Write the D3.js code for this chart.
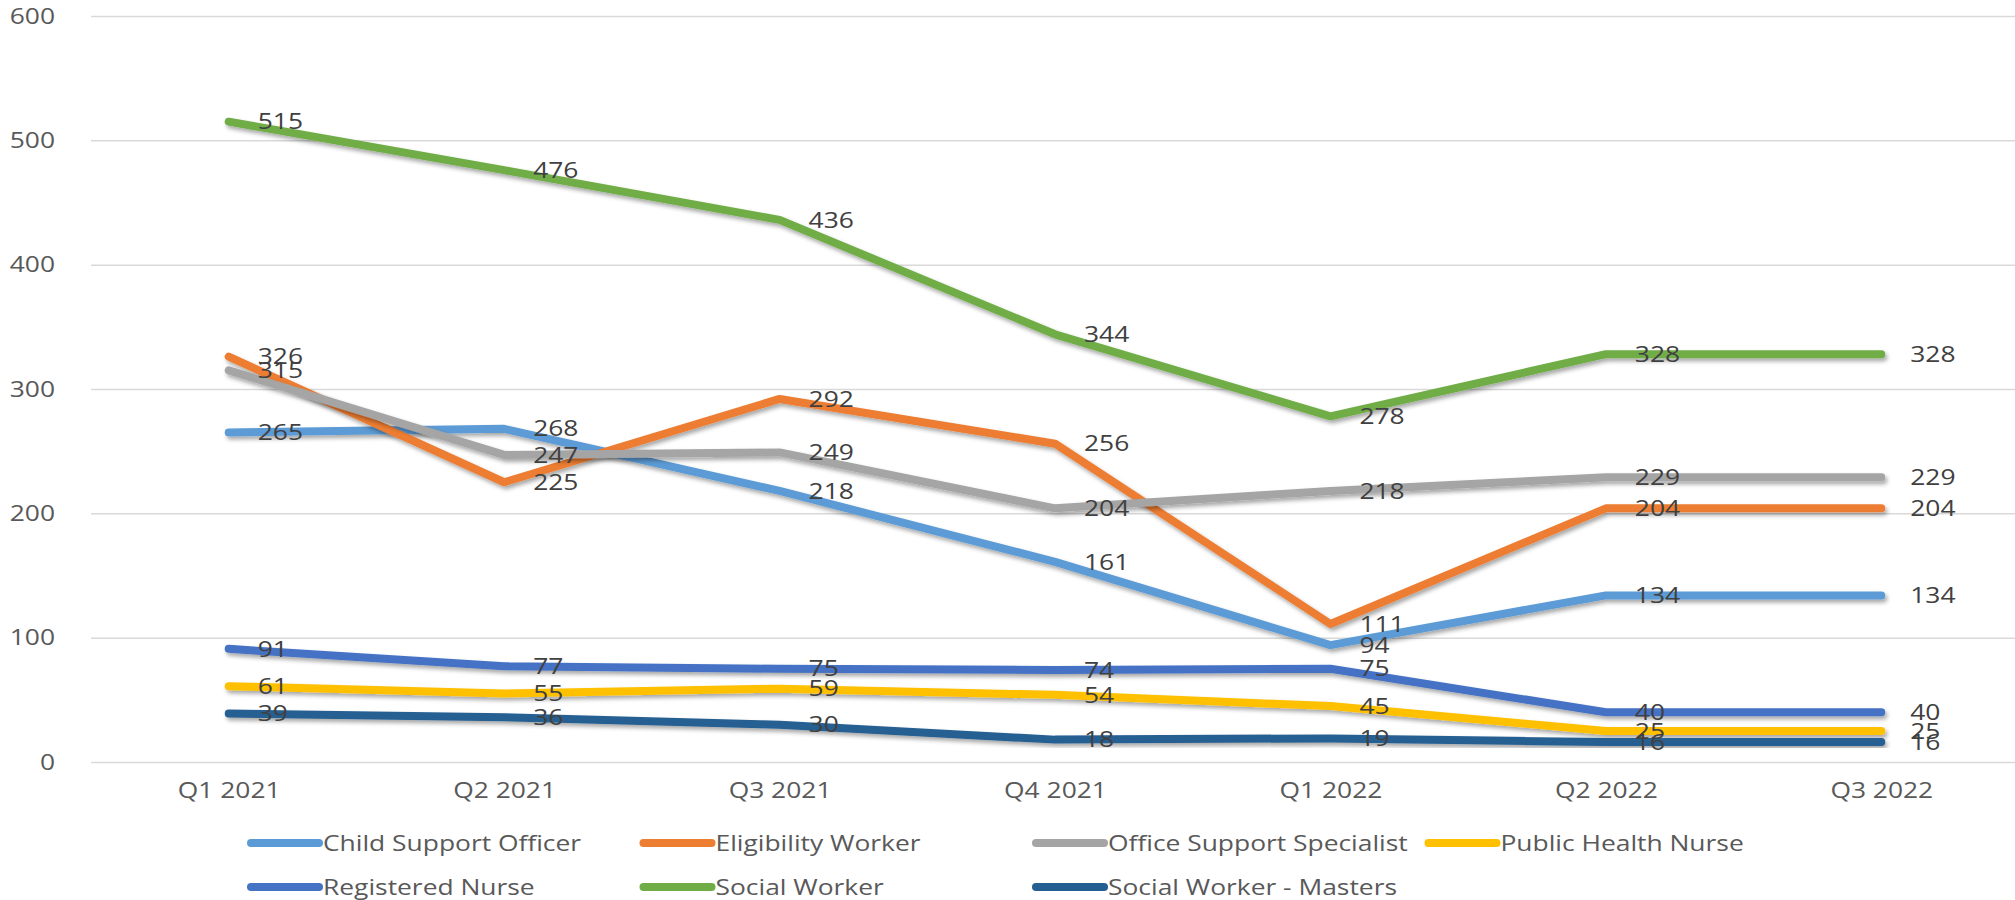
<!DOCTYPE html>
<html>
<head>
<meta charset="utf-8">
<script src="https://cdn.jsdelivr.net/npm/d3@7"></script>
<style>
  body { margin: 0; background: #fff; }
  text { font-family: "Open Sans", sans-serif; }
</style>
</head>
<body>
<svg id="canvas"></svg>
<script>
let quarters = ['Q1 2021', 'Q2 2021', 'Q3 2021', 'Q4 2021', 'Q1 2022', 'Q2 2022', 'Q3 2022']
let yTicks = [0, 100, 200, 300, 400, 500, 600]

let seriesNames = [
    'Child Support Officer',
    'Eligibility Worker',
    'Office Support Specialist',
    'Public Health Nurse',
    'Registered Nurse',
    'Social Worker',
    'Social Worker - Masters'
]
let childSupportOfficer = [265, 268, 218, 161, 94, 134, 134]
let eligibilityWorker = [326, 225, 292, 256, 111, 204, 204]
let officeSupportSpecialist = [315, 247, 249, 204, 218, 229, 229]
let publicHealthNurse = [61, 55, 59, 54, 45, 25, 25]
let registeredNurse = [91, 77, 75, 74, 75, 40, 40]
let socialWorker = [515, 476, 436, 344, 278, 328, 328]
let socialWorkerMasters = [39, 36, 30, 18, 19, 16, 16]

let colors = ['#5B9BD5', '#ED7D31', '#A5A5A5', '#FFC000', '#4472C4', '#70AD47', '#255E91']

let seriesValues = [
    childSupportOfficer,
    eligibilityWorker,
    officeSupportSpecialist,
    publicHealthNurse,
    registeredNurse,
    socialWorker,
    socialWorkerMasters
]

let series = seriesNames.map((name, i) => {
    return { name: name, color: colors[i], values: seriesValues[i] }
})

let w = 2015
let h = 900
let plotLeft = 91
let plotRight = 2019
let plotTop = 16
let plotBottom = 762
let stretch = 'scale(1.2,1)'

let canvas = d3.select('#canvas')
canvas.attr('width', w)
canvas.attr('height', h)

// soft shadow under the lines, like the Excel effect
let filter = canvas.append('defs').append('filter')
    .attr('id', 'shadow')
    .attr('x', '-5%').attr('y', '-20%')
    .attr('width', '110%').attr('height', '140%')
filter.append('feDropShadow')
    .attr('dx', 2)
    .attr('dy', 3)
    .attr('stdDeviation', 2)
    .attr('flood-color', '#000')
    .attr('flood-opacity', 0.35)

let xScale = d3.scalePoint()
    .domain(quarters)
    .range([plotLeft, plotRight])
    .padding(0.5)

let yScale = d3.scaleLinear()
    .domain([0, 600])
    .range([plotBottom, plotTop])

// gridlines + y labels
let yAxis = d3.axisLeft(yScale)
    .tickValues(yTicks)
    .tickSize(-(w - plotLeft))
    .tickPadding(30)

let yG = canvas.append('g')
    .attr('transform', 'translate(' + plotLeft + ', 0)')
    .call(yAxis)
yG.select('.domain').remove()
yG.selectAll('line')
    .attr('stroke', '#d9d9d9')
    .attr('stroke-width', 1.5)
yG.selectAll('text')
    .attr('fill', '#595959')
    .style('font-size', '22px')
    .attr('transform', stretch)

let xAxis = d3.axisBottom(xScale)
    .tickSize(0)
    .tickPadding(20)

let xG = canvas.append('g')
    .attr('transform', 'translate(0, ' + plotBottom + ')')
    .call(xAxis)
xG.select('.domain').remove()
xG.selectAll('text')
    .attr('fill', '#595959')
    .style('font-size', '22px')
    .attr('transform', stretch)

let line = d3.line()
    .x((d, i) => xScale(quarters[i]))
    .y((d) => yScale(d))

canvas.append('g')
    .selectAll('path')
    .data(series)
    .enter()
    .append('path')
    .attr('d', (s) => line(s.values))
    .attr('fill', 'none')
    .attr('stroke', (s) => s.color)
    .attr('stroke-width', 8)
    .attr('stroke-linecap', 'round')
    .attr('stroke-linejoin', 'round')
    .attr('filter', 'url(#shadow)')

// value labels to the right of each point
let labels = canvas.append('g')
series.forEach((s) => {
    s.values.forEach((v, i) => {
        labels.append('text')
            .attr('transform', 'translate(' + (xScale(quarters[i]) + 29) + ',' + yScale(v) + ') ' + stretch)
            .attr('dy', '0.35em')
            .attr('fill', '#404040')
            .style('font-size', '22px')
            .text(v)
    })
})

// legend, 4 columns
let legendX = 247
let legendCol = 392.5
let legendRows = [843, 887]

let legend = canvas.append('g')
    .selectAll('g')
    .data(series)
    .enter()
    .append('g')
    .attr('transform', (s, i) => {
        return 'translate(' + (legendX + (i % 4) * legendCol) + ',' + legendRows[Math.floor(i / 4)] + ')'
    })

legend.append('line')
    .attr('x1', 4)
    .attr('x2', 72)
    .attr('y1', 0)
    .attr('y2', 0)
    .attr('stroke', (s) => s.color)
    .attr('stroke-width', 8)
    .attr('stroke-linecap', 'round')

legend.append('text')
    .attr('transform', 'translate(76,0) ' + stretch)
    .attr('dy', '0.35em')
    .attr('fill', '#595959')
    .style('font-size', '22px')
    .text((s) => s.name)
</script>
</body>
</html>
